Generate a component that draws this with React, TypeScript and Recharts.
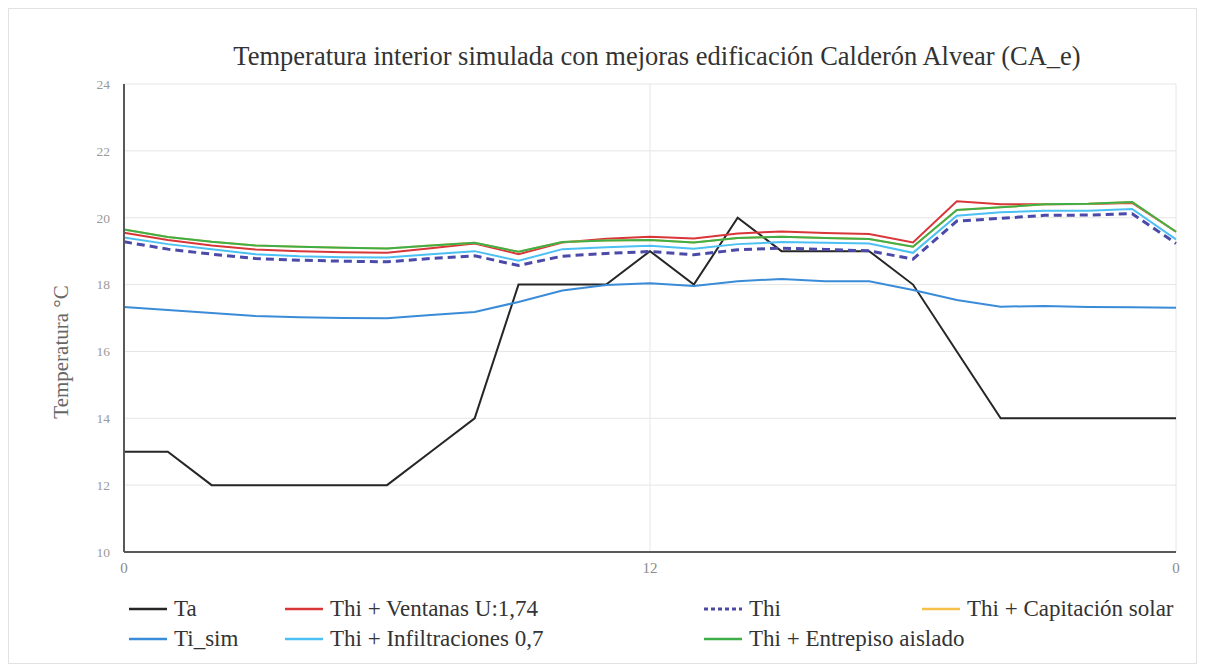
import React from 'react';
import { CartesianGrid, Line, LineChart, XAxis, YAxis } from 'recharts';

const hours = [0, 1, 2, 3, 4, 5, 6, 7, 8, 9, 10, 11, 12, 13, 14, 15, 16, 17, 18, 19, 20, 21, 22, 23, 24];

const ta = [13, 13, 12, 12, 12, 12, 12, 13, 14, 18, 18, 18, 19, 18, 20, 19, 19, 19, 18, 16, 14, 14, 14, 14, 14];
const tiSim = [17.33, 17.24, 17.15, 17.06, 17.02, 17.0, 16.99, 17.09, 17.18, 17.48, 17.82, 17.99, 18.04, 17.96, 18.1, 18.17, 18.1, 18.1, 17.84, 17.54, 17.34, 17.36, 17.33, 17.32, 17.31];
const ventanas = [19.55, 19.33, 19.17, 19.05, 19.0, 18.97, 18.95, 19.09, 19.23, 18.91, 19.26, 19.37, 19.43, 19.38, 19.53, 19.59, 19.54, 19.51, 19.26, 20.49, 20.4, 20.4, 20.41, 20.44, 19.58];
const thi = [19.28, 19.06, 18.91, 18.78, 18.73, 18.7, 18.68, 18.78, 18.86, 18.57, 18.85, 18.93, 18.99, 18.89, 19.04, 19.09, 19.05, 19.01, 18.76, 19.9, 19.98, 20.07, 20.08, 20.12, 19.23];
const captacion = [19.65, 19.42, 19.28, 19.17, 19.13, 19.1, 19.08, 19.17, 19.25, 18.98, 19.27, 19.32, 19.33, 19.26, 19.39, 19.43, 19.39, 19.36, 19.13, 20.23, 20.31, 20.4, 20.42, 20.47, 19.58];
const infiltraciones = [19.41, 19.21, 19.06, 18.91, 18.85, 18.82, 18.81, 18.91, 19.0, 18.71, 19.06, 19.12, 19.16, 19.07, 19.21, 19.27, 19.25, 19.23, 18.95, 20.06, 20.16, 20.21, 20.21, 20.26, 19.35];
const entrepiso = [19.65, 19.42, 19.28, 19.17, 19.13, 19.1, 19.08, 19.17, 19.25, 18.98, 19.27, 19.32, 19.33, 19.26, 19.39, 19.43, 19.39, 19.36, 19.13, 20.23, 20.31, 20.4, 20.42, 20.47, 19.58];

const yTicks = [10, 12, 14, 16, 18, 20, 22, 24];
const xTicks = [0, 12, 24];

const data = hours.map((h, i) => ({
  h,
  ta: ta[i],
  ventanas: ventanas[i],
  thi: thi[i],
  captacion: captacion[i],
  tiSim: tiSim[i],
  infiltraciones: infiltraciones[i],
  entrepiso: entrepiso[i],
}));

const FONT = '"Liberation Serif", "DejaVu Serif", serif';

// drawing order follows the legend order (row by row)
const SERIES = [
  { key: 'ta', name: 'Ta', color: '#262626', width: 2 },
  { key: 'ventanas', name: 'Thi + Ventanas U:1,74', color: '#d9363a', width: 2 },
  { key: 'thi', name: 'Thi', color: '#4c4aa8', width: 3, dash: '8 5' },
  { key: 'captacion', name: 'Thi + Capitación solar', color: '#f7c04a', width: 2 },
  { key: 'tiSim', name: 'Ti_sim', color: '#3a8cd8', width: 2 },
  { key: 'infiltraciones', name: 'Thi + Infiltraciones 0,7', color: '#4cc0f2', width: 2 },
  { key: 'entrepiso', name: 'Thi + Entrepiso aislado', color: '#3fae49', width: 2 },
];

// legend cells: [series index, column x, row]
const LEGEND_POS: [number, number, number][] = [
  [0, 119, 0],
  [1, 275, 0],
  [2, 694, 0],
  [3, 912, 0],
  [4, 119, 1],
  [5, 275, 1],
  [6, 694, 1],
];

function ChartLegend() {
  return (
    <div style={{ position: 'absolute', left: 0, top: 586, width: 1187, height: 70, fontFamily: FONT }}>
      {LEGEND_POS.map(([si, x, row]) => {
        const s = SERIES[si];
        return (
          <div
            key={s.key}
            style={{ position: 'absolute', left: x, top: row * 30, display: 'flex', alignItems: 'center', height: 28 }}
          >
            <svg width={40} height={6} style={{ marginRight: 6 }}>
              <line
                x1={1}
                y1={3}
                x2={39}
                y2={3}
                stroke={s.color}
                strokeWidth={s.dash ? 3 : 2.5}
                strokeDasharray={s.dash ? '4 3' : undefined}
              />
            </svg>
            <span style={{ fontSize: 23, color: '#333', whiteSpace: 'nowrap' }}>{s.name}</span>
          </div>
        );
      })}
    </div>
  );
}

export default function App() {
  return (
    <div style={{ position: 'relative', width: 1187, height: 654, border: '1px solid #e2e2e2', background: '#fff' }}>
      <div
        style={{
          position: 'absolute',
          left: 0,
          top: 32,
          width: 1296,
          textAlign: 'center',
          fontFamily: FONT,
          fontSize: 26.5,
          color: '#333',
          whiteSpace: 'nowrap',
        }}
      >
        Temperatura interior simulada con mejoras edificación Calderón Alvear (CA_e)
      </div>
      <LineChart width={1187} height={654} data={data} margin={{ top: 75, right: 20, left: 0, bottom: 81 }}>
        <CartesianGrid stroke="#e6e6e6" strokeWidth={1} />
        <XAxis
          dataKey="h"
          type="number"
          domain={[0, 24]}
          ticks={xTicks}
          tickFormatter={(v) => (v === 24 ? '0' : String(v))}
          tickLine={false}
          tickSize={0}
          tickMargin={10}
          axisLine={{ stroke: '#595959', strokeWidth: 2 }}
          tick={{ fontSize: 15, fill: '#8a8a8a', fontFamily: FONT }}
        />
        <YAxis
          type="number"
          domain={[10, 24]}
          ticks={yTicks}
          width={115}
          tickLine={false}
          tickSize={0}
          tickMargin={14}
          axisLine={{ stroke: '#595959', strokeWidth: 2 }}
          tick={{ fontSize: 13.5, fill: '#9a9a9a', fontFamily: FONT }}
          label={{
            content: () => (
              <text
                x={52}
                y={343}
                transform="rotate(-90, 52, 343)"
                textAnchor="middle"
                dominantBaseline="central"
                fontFamily={FONT}
                fontSize={21}
                fill="#666"
              >
                Temperatura °C
              </text>
            ),
          }}
        />
        {SERIES.map((s) => (
          <Line
            key={s.key}
            type="linear"
            dataKey={s.key}
            name={s.name}
            stroke={s.color}
            strokeWidth={s.width}
            strokeDasharray={s.dash}
            dot={false}
            isAnimationActive={false}
          />
        ))}
      </LineChart>
      <ChartLegend />
    </div>
  );
}
